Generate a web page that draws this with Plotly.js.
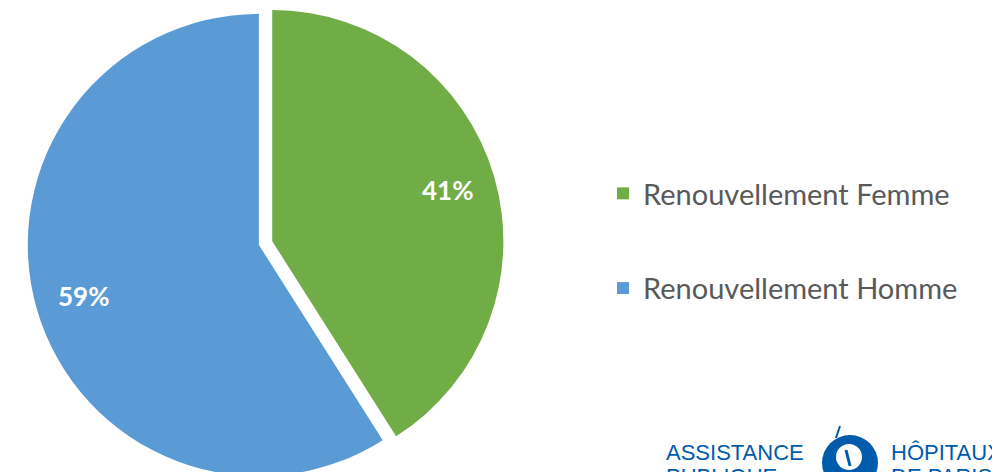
<!DOCTYPE html>
<html>
<head>
<meta charset="utf-8">
<script src="https://cdn.plot.ly/plotly-3.0.1.min.js"></script>
<style>
html, body { margin: 0; padding: 0; overflow: hidden; background: #ffffff; }
#chart { width: 992px; height: 490px; }
</style>
</head>
<body>
<div id="chart"></div>
<script>
const categories = ["Renouvellement Femme", "Renouvellement Homme"];
const values = [41, 59];
const pulls = [0.06, 0];
const sliceColors = ["#70AD47", "#5B9BD5"];

const W = 992, H = 490;
function px(x) { return x / W; }
function py(y) { return 1 - y / H; }

const logoBlue = "#005BAC";
const logoFont = { family: "'Liberation Sans Narrow', 'Liberation Sans', Arial, sans-serif", size: 22, color: logoBlue };

const pieTrace = {
  type: "pie",
  labels: categories,
  values: values,
  sort: false,
  direction: "clockwise",
  rotation: 0,
  pull: pulls,
  marker: { colors: sliceColors, line: { color: "#ffffff", width: 0 } },
  textinfo: "none",
  hoverinfo: "label+percent",
  domain: { x: [0, 0.522], y: [0, 1] }
};

// invisible helper entry so the legend treats each slice as its own group (enables tracegroupgap)
const spacerTrace = {
  type: "scatter", x: [null], y: [null], mode: "markers",
  name: " ", legendgroup: "spacer", showlegend: true,
  marker: { opacity: 0, size: 1, color: "rgba(0,0,0,0)", line: { width: 0, color: "rgba(0,0,0,0)" } },
  hoverinfo: "skip"
};

const logoAnnotations = [
  { text: "ASSISTANCE", xref: "paper", yref: "paper", x: px(664), y: py(452), xanchor: "left", yanchor: "middle", showarrow: false, font: logoFont },
  { text: "PUBLIQUE", xref: "paper", yref: "paper", x: px(664), y: py(476), xanchor: "left", yanchor: "middle", showarrow: false, font: logoFont },
  { text: "HÔPITAUX", xref: "paper", yref: "paper", x: px(889), y: py(452), xanchor: "left", yanchor: "middle", showarrow: false, font: logoFont },
  { text: "DE PARIS", xref: "paper", yref: "paper", x: px(889), y: py(476), xanchor: "left", yanchor: "middle", showarrow: false, font: logoFont }
];

// percentage labels along each slice's bisector (clockwise from 12 o'clock), in the pie's own geometry
const total = values.reduce((a, b) => a + b, 0);
function labelAnnotations(cx, cy, r) {
  const labelRadius = 0.79;
  let cum = 0;
  return values.map(function (v, i) {
    const fMid = (cum + v / 2) / total;
    cum += v;
    const theta = 2 * Math.PI * fMid;
    const shift = (pulls[i] || 0) + labelRadius;
    const xPix = cx + Math.sin(theta) * r * shift;
    const yPix = cy - Math.cos(theta) * r * shift;
    return {
      text: Math.round(v / total * 100) + "%",
      xref: "paper", yref: "paper", x: px(xPix), y: py(yPix),
      xanchor: "center", yanchor: "middle", showarrow: false,
      font: { family: "Lato, 'Open Sans', sans-serif", size: 26, color: "#ffffff", weight: "bold" }
    };
  });
}

const layout = {
  width: W,
  height: H,
  margin: { l: 0, r: 0, t: 0, b: 0 },
  paper_bgcolor: "#ffffff",
  plot_bgcolor: "rgba(0,0,0,0)",
  xaxis: { visible: false },
  yaxis: { visible: false },
  showlegend: true,
  legend: {
    x: px(603), y: py(168), xanchor: "left", yanchor: "top",
    traceorder: "grouped",
    tracegroupgap: 54,
    font: { family: "Lato, 'Open Sans', sans-serif", size: 29, color: "#595959" },
    bgcolor: "rgba(0,0,0,0)"
  },
  annotations: logoAnnotations.slice(),
  shapes: [
    { type: "circle", xref: "paper", yref: "paper", x0: px(822), x1: px(878), y0: py(435), y1: py(491),
      fillcolor: logoBlue, line: { width: 0 } },
    { type: "circle", xref: "paper", yref: "paper", x0: px(836), x1: px(862), y0: py(444), y1: py(470),
      fillcolor: "#ffffff", line: { width: 0 } },
    { type: "line", xref: "paper", yref: "paper", x0: px(836), x1: px(840), y0: py(438), y1: py(426),
      line: { color: logoBlue, width: 2 } },
    { type: "path", xref: "paper", yref: "paper",
      path: "M" + px(846) + "," + py(450) + " L" + px(850) + "," + py(466),
      line: { color: logoBlue, width: 3 } }
  ]
};

const gd = document.getElementById("chart");
Plotly.newPlot(gd, [pieTrace, spacerTrace], layout, { displayModeBar: false, staticPlot: true }).then(function () {
  const cd0 = gd.calcdata[0][0];
  return Plotly.relayout(gd, { annotations: logoAnnotations.concat(labelAnnotations(cd0.cx, cd0.cy, cd0.r)) });
});
</script>
</body>
</html>
